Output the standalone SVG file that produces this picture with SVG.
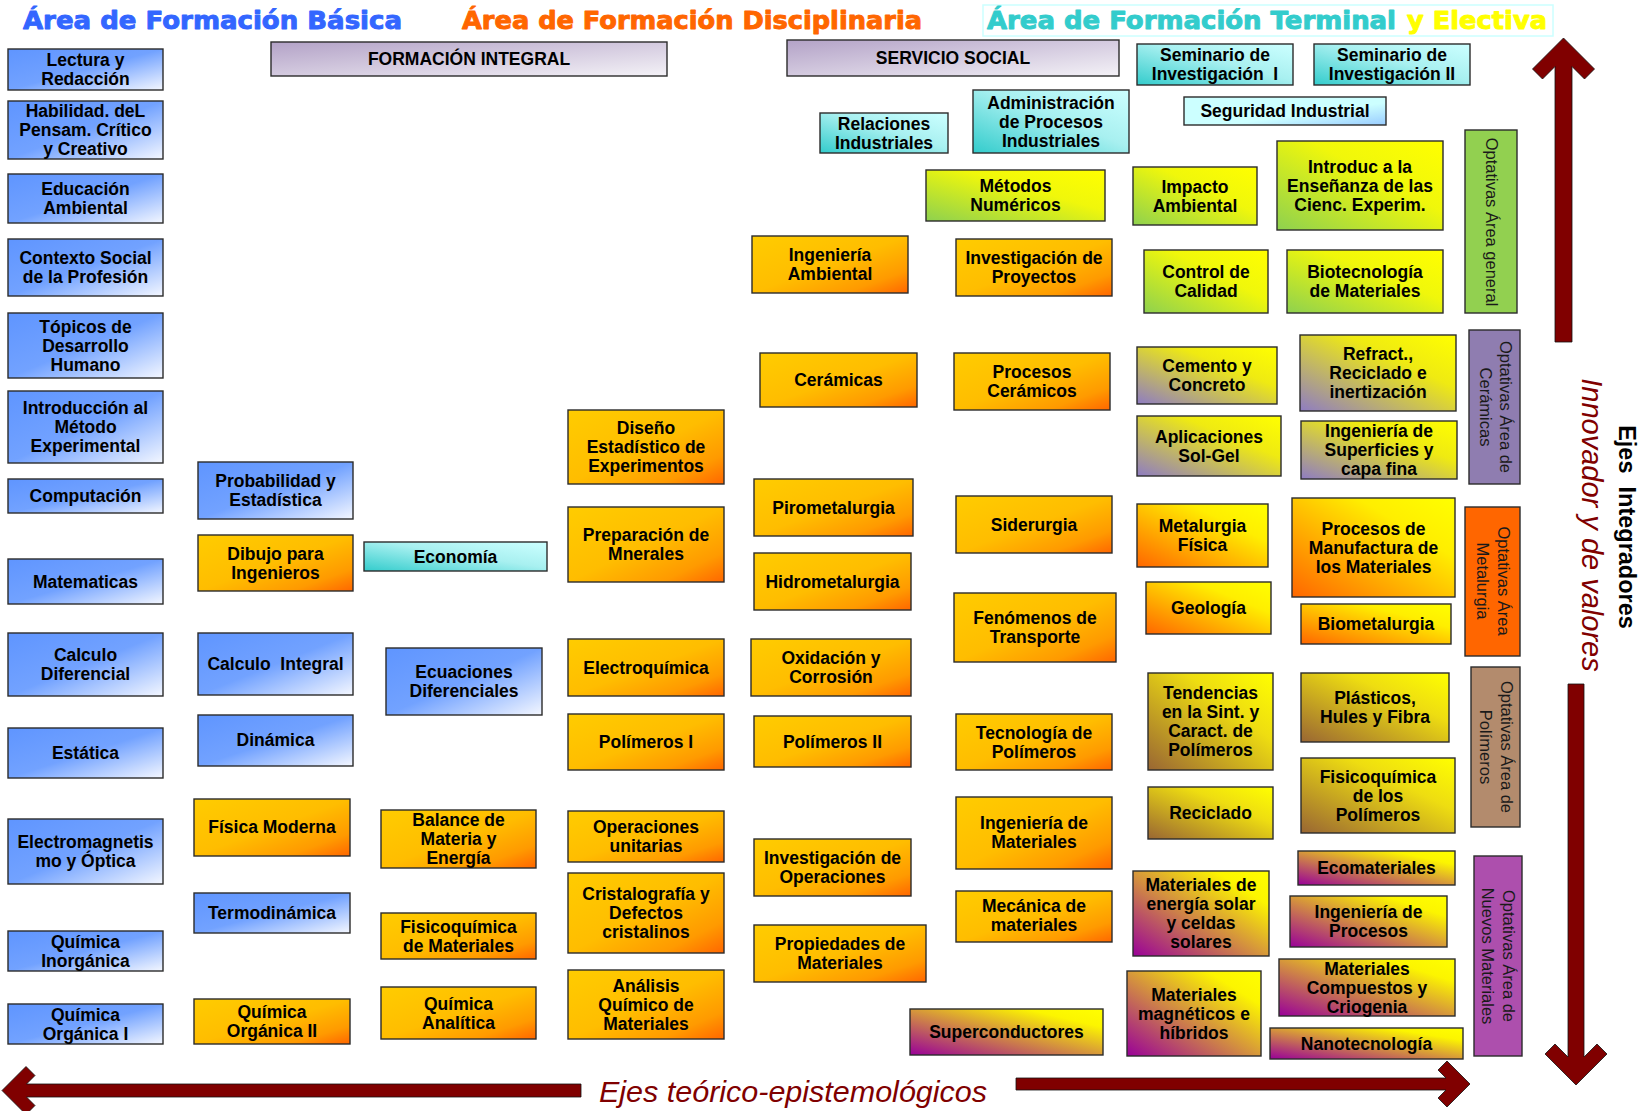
<svg xmlns="http://www.w3.org/2000/svg" width="1647" height="1111" viewBox="0 0 1647 1111">
<defs>
<linearGradient id="gBlue" x1="0" y1="0" x2="1" y2="1"><stop offset="0" stop-color="#5F95FF"/><stop offset="0.5" stop-color="#72A2FF"/><stop offset="1" stop-color="#F4F7FF"/></linearGradient>
<linearGradient id="gOrange" x1="0" y1="0" x2="1" y2="1"><stop offset="0" stop-color="#FFCC00"/><stop offset="0.5" stop-color="#FFBD00"/><stop offset="0.8" stop-color="#FF9A00"/><stop offset="1" stop-color="#FF6600"/></linearGradient>
<linearGradient id="gGreen" x1="1" y1="0" x2="0" y2="1"><stop offset="0" stop-color="#FFFF00"/><stop offset="0.4" stop-color="#F0F70B"/><stop offset="1" stop-color="#8ED14F"/></linearGradient>
<linearGradient id="gPurp" x1="1" y1="0" x2="0" y2="1"><stop offset="0" stop-color="#FFFF00"/><stop offset="0.35" stop-color="#EFEA12"/><stop offset="1" stop-color="#8E7CC3"/></linearGradient>
<linearGradient id="gOrY" x1="1" y1="0" x2="0" y2="1"><stop offset="0" stop-color="#FFFF00"/><stop offset="0.3" stop-color="#FFEE00"/><stop offset="1" stop-color="#FF6600"/></linearGradient>
<linearGradient id="gBrown" x1="1" y1="0" x2="0" y2="1"><stop offset="0" stop-color="#FFFF00"/><stop offset="0.35" stop-color="#EEDD11"/><stop offset="1" stop-color="#996633"/></linearGradient>
<linearGradient id="gMag" x1="1" y1="0" x2="0" y2="1"><stop offset="0" stop-color="#FFFF00"/><stop offset="0.2" stop-color="#FCF500"/><stop offset="1" stop-color="#990099"/></linearGradient>
<linearGradient id="gTeal" x1="0" y1="1" x2="1" y2="0"><stop offset="0" stop-color="#33CCCC"/><stop offset="0.55" stop-color="#A8F0F0"/><stop offset="1" stop-color="#CCFFFF"/></linearGradient>
<linearGradient id="gSeg" x1="0" y1="0" x2="1" y2="1"><stop offset="0" stop-color="#CCFFFF"/><stop offset="0.6" stop-color="#CCFFFF"/><stop offset="1" stop-color="#99CCFF"/></linearGradient>
<linearGradient id="gLav" x1="0" y1="0" x2="1" y2="1"><stop offset="0" stop-color="#B3A2C7"/><stop offset="1" stop-color="#F4F2F7"/></linearGradient>
<style>
.box{stroke:#2b2b2b;stroke-width:1.4}
.lbl{font-family:"Liberation Sans",Arial,sans-serif;font-weight:bold;font-size:17.5px;text-anchor:middle;fill:#000}
.opt{font-family:"Liberation Sans",Arial,sans-serif;font-size:16.5px;text-anchor:middle;fill:#1a1a1a}
.ttl{font-family:"DejaVu Sans","Liberation Sans",sans-serif;font-weight:bold;font-size:24px;stroke-width:0.9;stroke-linejoin:round}
.arrow{fill:#800000;stroke:#111;stroke-width:0.8}
.axis{font-family:"Liberation Sans",Arial,sans-serif;font-style:italic;fill:#800000}
</style>
</defs>
<rect width="1647" height="1111" fill="#fff"/>

<g id="titles">
<text class="ttl" x="23" y="29" textLength="379" lengthAdjust="spacingAndGlyphs" fill="#3366FF" stroke="#3366FF">Área de Formación Básica</text>
<text class="ttl" x="462" y="29" textLength="460" lengthAdjust="spacingAndGlyphs" fill="#FF6600" stroke="#FF6600">Área de Formación Disciplinaria</text>
<rect x="983" y="5" width="570" height="31" fill="none" stroke="#CCFFFF" stroke-width="1.5"/>
<text class="ttl" x="987" y="29" textLength="409" lengthAdjust="spacingAndGlyphs" fill="#33CCCC" stroke="#33CCCC">Área de Formación Terminal</text>
<text class="ttl" x="1407" y="29" textLength="140" lengthAdjust="spacingAndGlyphs" fill="#FFFF00" stroke="#FFFF00">y Electiva</text>
</g>

<g id="bar-formacion-integral"><rect class="box" x="271" y="42" width="396" height="34" fill="url(#gLav)"/><text class="lbl" x="469" y="65">FORMACIÓN INTEGRAL</text></g>
<g id="bar-servicio-social"><rect class="box" x="787" y="40" width="332" height="36" fill="url(#gLav)"/><text class="lbl" x="953" y="64">SERVICIO SOCIAL</text></g>

<!-- Column 1 -->
<g id="n-lectura"><rect class="box" x="8" y="49" width="155" height="41" fill="url(#gBlue)"/><text class="lbl"><tspan x="85.5" y="66.3">Lectura y</tspan><tspan x="85.5" y="85.3">Redacción</tspan></text></g>
<g id="n-habilidad"><rect class="box" x="8" y="101" width="155" height="58" fill="url(#gBlue)"/><text class="lbl"><tspan x="85.5" y="117.3">Habilidad. deL</tspan><tspan x="85.5" y="136.3">Pensam. Crítico</tspan><tspan x="85.5" y="155.3">y Creativo</tspan></text></g>
<g id="n-educacion"><rect class="box" x="8" y="174" width="155" height="49" fill="url(#gBlue)"/><text class="lbl"><tspan x="85.5" y="195.3">Educación</tspan><tspan x="85.5" y="214.3">Ambiental</tspan></text></g>
<g id="n-contexto"><rect class="box" x="8" y="239" width="155" height="57" fill="url(#gBlue)"/><text class="lbl"><tspan x="85.5" y="264.3">Contexto Social</tspan><tspan x="85.5" y="283.3">de la Profesión</tspan></text></g>
<g id="n-topicos"><rect class="box" x="8" y="313" width="155" height="65" fill="url(#gBlue)"/><text class="lbl"><tspan x="85.5" y="332.8">Tópicos de</tspan><tspan x="85.5" y="351.8">Desarrollo</tspan><tspan x="85.5" y="370.8">Humano</tspan></text></g>
<g id="n-intro-metodo"><rect class="box" x="8" y="391" width="155" height="72" fill="url(#gBlue)"/><text class="lbl"><tspan x="85.5" y="414.3">Introducción al</tspan><tspan x="85.5" y="433.3">Método</tspan><tspan x="85.5" y="452.3">Experimental</tspan></text></g>
<g id="n-computacion"><rect class="box" x="8" y="479" width="155" height="34" fill="url(#gBlue)"/><text class="lbl" x="85.5" y="502.3">Computación</text></g>
<g id="n-matematicas"><rect class="box" x="8" y="559" width="155" height="45" fill="url(#gBlue)"/><text class="lbl" x="85.5" y="587.8">Matematicas</text></g>
<g id="n-calc-dif"><rect class="box" x="8" y="633" width="155" height="63" fill="url(#gBlue)"/><text class="lbl"><tspan x="85.5" y="661.3">Calculo</tspan><tspan x="85.5" y="680.3">Diferencial</tspan></text></g>
<g id="n-estatica"><rect class="box" x="8" y="728" width="155" height="50" fill="url(#gBlue)"/><text class="lbl" x="85.5" y="759.3">Estática</text></g>
<g id="n-electromag"><rect class="box" x="8" y="819" width="155" height="65" fill="url(#gBlue)"/><text class="lbl"><tspan x="85.5" y="848.3">Electromagnetis</tspan><tspan x="85.5" y="867.3">mo y Óptica</tspan></text></g>
<g id="n-q-inorg"><rect class="box" x="8" y="931" width="155" height="40" fill="url(#gBlue)"/><text class="lbl"><tspan x="85.5" y="947.8">Química</tspan><tspan x="85.5" y="966.8">Inorgánica</tspan></text></g>
<g id="n-q-org1"><rect class="box" x="8" y="1004" width="155" height="40" fill="url(#gBlue)"/><text class="lbl"><tspan x="85.5" y="1020.8">Química</tspan><tspan x="85.5" y="1039.8">Orgánica I</tspan></text></g>

<!-- Column 2 -->
<g id="n-probabilidad"><rect class="box" x="198" y="462" width="155" height="57" fill="url(#gBlue)"/><text class="lbl"><tspan x="275.5" y="487.3">Probabilidad y</tspan><tspan x="275.5" y="506.3">Estadística</tspan></text></g>
<g id="n-dibujo"><rect class="box" x="198" y="535" width="155" height="56" fill="url(#gOrange)"/><text class="lbl"><tspan x="275.5" y="559.8">Dibujo para</tspan><tspan x="275.5" y="578.8">Ingenieros</tspan></text></g>
<g id="n-calc-int"><rect class="box" x="198" y="633" width="155" height="62" fill="url(#gBlue)"/><text class="lbl" x="275.5" y="670.3" xml:space="preserve">Calculo  Integral</text></g>
<g id="n-dinamica"><rect class="box" x="198" y="715" width="155" height="51" fill="url(#gBlue)"/><text class="lbl" x="275.5" y="745.5">Dinámica</text></g>
<g id="n-fisica-moderna"><rect class="box" x="194" y="799" width="156" height="57" fill="url(#gOrange)"/><text class="lbl" x="272" y="833.3">Física Moderna</text></g>
<g id="n-termodinamica"><rect class="box" x="194" y="893" width="156" height="40" fill="url(#gBlue)"/><text class="lbl" x="272" y="919.3">Termodinámica</text></g>
<g id="n-q-org2"><rect class="box" x="194" y="999" width="156" height="45" fill="url(#gOrange)"/><text class="lbl"><tspan x="272" y="1018.3">Química</tspan><tspan x="272" y="1037.3">Orgánica II</tspan></text></g>

<!-- Column 3 -->
<g id="n-economia"><rect class="box" x="364" y="542" width="183" height="29" fill="url(#gTeal)"/><text class="lbl" x="455.5" y="562.8">Economía</text></g>
<g id="n-ec-dif"><rect class="box" x="386" y="648" width="156" height="67" fill="url(#gBlue)"/><text class="lbl"><tspan x="464" y="678.3">Ecuaciones</tspan><tspan x="464" y="697.3">Diferenciales</tspan></text></g>
<g id="n-balance"><rect class="box" x="381" y="810" width="155" height="58" fill="url(#gOrange)"/><text class="lbl"><tspan x="458.5" y="826.3">Balance de</tspan><tspan x="458.5" y="845.3">Materia y</tspan><tspan x="458.5" y="864.3">Energía</tspan></text></g>
<g id="n-fisicoq-mat"><rect class="box" x="381" y="913" width="155" height="46" fill="url(#gOrange)"/><text class="lbl"><tspan x="458.5" y="932.8">Fisicoquímica</tspan><tspan x="458.5" y="951.8">de Materiales</tspan></text></g>
<g id="n-q-analitica"><rect class="box" x="381" y="987" width="155" height="52" fill="url(#gOrange)"/><text class="lbl"><tspan x="458.5" y="1009.8">Química</tspan><tspan x="458.5" y="1028.8">Analítica</tspan></text></g>

<!-- Column 4 -->
<g id="n-diseno"><rect class="box" x="568" y="410" width="156" height="74" fill="url(#gOrange)"/><text class="lbl"><tspan x="646" y="434.3">Diseño</tspan><tspan x="646" y="453.3">Estadístico de</tspan><tspan x="646" y="472.3">Experimentos</tspan></text></g>
<g id="n-preparacion"><rect class="box" x="568" y="507" width="156" height="75" fill="url(#gOrange)"/><text class="lbl"><tspan x="646" y="541.3">Preparación de</tspan><tspan x="646" y="560.3">Mnerales</tspan></text></g>
<g id="n-electroquimica"><rect class="box" x="568" y="639" width="156" height="57" fill="url(#gOrange)"/><text class="lbl" x="646" y="673.8">Electroquímica</text></g>
<g id="n-polimeros1"><rect class="box" x="568" y="714" width="156" height="56" fill="url(#gOrange)"/><text class="lbl" x="646" y="748.3">Polímeros I</text></g>
<g id="n-op-unitarias"><rect class="box" x="568" y="811" width="156" height="51" fill="url(#gOrange)"/><text class="lbl"><tspan x="646" y="833.3">Operaciones</tspan><tspan x="646" y="852.3">unitarias</tspan></text></g>
<g id="n-cristalografia"><rect class="box" x="568" y="873" width="156" height="80" fill="url(#gOrange)"/><text class="lbl"><tspan x="646" y="900.3">Cristalografía y</tspan><tspan x="646" y="919.3">Defectos</tspan><tspan x="646" y="938.3">cristalinos</tspan></text></g>
<g id="n-analisis"><rect class="box" x="568" y="970" width="156" height="69" fill="url(#gOrange)"/><text class="lbl"><tspan x="646" y="991.8">Análisis</tspan><tspan x="646" y="1010.8">Químico de</tspan><tspan x="646" y="1029.8">Materiales</tspan></text></g>

<!-- Column 5 -->
<g id="n-ing-ambiental"><rect class="box" x="752" y="236" width="156" height="57" fill="url(#gOrange)"/><text class="lbl"><tspan x="830" y="261.3">Ingeniería</tspan><tspan x="830" y="280.3">Ambiental</tspan></text></g>
<g id="n-ceramicas"><rect class="box" x="760" y="353" width="157" height="54" fill="url(#gOrange)"/><text class="lbl" x="838.5" y="386.3">Cerámicas</text></g>
<g id="n-pirometalurgia"><rect class="box" x="754" y="479" width="159" height="57" fill="url(#gOrange)"/><text class="lbl" x="833.5" y="513.8">Pirometalurgia</text></g>
<g id="n-hidrometalurgia"><rect class="box" x="754" y="553" width="157" height="57" fill="url(#gOrange)"/><text class="lbl" x="832.5" y="587.8">Hidrometalurgia</text></g>
<g id="n-oxidacion"><rect class="box" x="751" y="639" width="160" height="57" fill="url(#gOrange)"/><text class="lbl"><tspan x="831" y="664.3">Oxidación y</tspan><tspan x="831" y="683.3">Corrosión</tspan></text></g>
<g id="n-polimeros2"><rect class="box" x="754" y="716" width="157" height="51" fill="url(#gOrange)"/><text class="lbl" x="832.5" y="747.8">Polímeros II</text></g>
<g id="n-inv-operaciones"><rect class="box" x="754" y="839" width="157" height="57" fill="url(#gOrange)"/><text class="lbl"><tspan x="832.5" y="864.3">Investigación de</tspan><tspan x="832.5" y="883.3">Operaciones</tspan></text></g>
<g id="n-propiedades"><rect class="box" x="754" y="925" width="172" height="57" fill="url(#gOrange)"/><text class="lbl"><tspan x="840" y="950.3">Propiedades de</tspan><tspan x="840" y="969.3">Materiales</tspan></text></g>
<g id="n-superconductores"><rect class="box" x="910" y="1009" width="193" height="46" fill="url(#gMag)"/><text class="lbl" x="1006.5" y="1038.3">Superconductores</text></g>

<!-- Column 6 -->
<g id="n-relaciones"><rect class="box" x="820" y="113" width="128" height="40" fill="url(#gTeal)"/><text class="lbl"><tspan x="884" y="129.8">Relaciones</tspan><tspan x="884" y="148.8">Industriales</tspan></text></g>
<g id="n-administracion"><rect class="box" x="973" y="90" width="156" height="63" fill="url(#gTeal)"/><text class="lbl"><tspan x="1051" y="108.8">Administración</tspan><tspan x="1051" y="127.8">de Procesos</tspan><tspan x="1051" y="146.8">Industriales</tspan></text></g>
<g id="n-metodos"><rect class="box" x="926" y="170" width="179" height="51" fill="url(#gGreen)"/><text class="lbl"><tspan x="1015.5" y="192.3">Métodos</tspan><tspan x="1015.5" y="211.3">Numéricos</tspan></text></g>
<g id="n-inv-proyectos"><rect class="box" x="956" y="239" width="156" height="57" fill="url(#gOrange)"/><text class="lbl"><tspan x="1034" y="264.3">Investigación de</tspan><tspan x="1034" y="283.3">Proyectos</tspan></text></g>
<g id="n-proc-ceramicos"><rect class="box" x="954" y="353" width="156" height="57" fill="url(#gOrange)"/><text class="lbl"><tspan x="1032" y="378.3">Procesos</tspan><tspan x="1032" y="397.3">Cerámicos</tspan></text></g>
<g id="n-siderurgia"><rect class="box" x="956" y="496" width="156" height="57" fill="url(#gOrange)"/><text class="lbl" x="1034" y="530.8">Siderurgia</text></g>
<g id="n-fenomenos"><rect class="box" x="954" y="593" width="162" height="69" fill="url(#gOrange)"/><text class="lbl"><tspan x="1035" y="624.3">Fenómenos de</tspan><tspan x="1035" y="643.3">Transporte</tspan></text></g>
<g id="n-tec-polimeros"><rect class="box" x="956" y="714" width="156" height="56" fill="url(#gOrange)"/><text class="lbl"><tspan x="1034" y="738.8">Tecnología de</tspan><tspan x="1034" y="757.8">Polímeros</tspan></text></g>
<g id="n-ing-materiales"><rect class="box" x="956" y="797" width="156" height="72" fill="url(#gOrange)"/><text class="lbl"><tspan x="1034" y="829.3">Ingeniería de</tspan><tspan x="1034" y="848.3">Materiales</tspan></text></g>
<g id="n-mecanica"><rect class="box" x="956" y="891" width="156" height="51" fill="url(#gOrange)"/><text class="lbl"><tspan x="1034" y="912.3">Mecánica de</tspan><tspan x="1034" y="931.3">materiales</tspan></text></g>

<!-- Column 7 -->
<g id="n-seminario1"><rect class="box" x="1137" y="44" width="156" height="41" fill="url(#gTeal)"/><text class="lbl" xml:space="preserve"><tspan x="1215" y="61.3">Seminario de</tspan><tspan x="1215" y="80.3">Investigación  I</tspan></text></g>
<g id="n-seguridad"><rect class="box" x="1184" y="97" width="202" height="28" fill="url(#gSeg)"/><text class="lbl" x="1285" y="117.3">Seguridad Industrial</text></g>
<g id="n-impacto"><rect class="box" x="1133" y="167" width="124" height="58" fill="url(#gGreen)"/><text class="lbl"><tspan x="1195" y="192.8">Impacto</tspan><tspan x="1195" y="211.8">Ambiental</tspan></text></g>
<g id="n-control"><rect class="box" x="1144" y="250" width="124" height="63" fill="url(#gGreen)"/><text class="lbl"><tspan x="1206" y="278.3">Control de</tspan><tspan x="1206" y="297.3">Calidad</tspan></text></g>
<g id="n-cemento"><rect class="box" x="1137" y="347" width="140" height="57" fill="url(#gPurp)"/><text class="lbl"><tspan x="1207" y="372.3">Cemento y</tspan><tspan x="1207" y="391.3">Concreto</tspan></text></g>
<g id="n-solgel"><rect class="box" x="1137" y="416" width="144" height="60" fill="url(#gPurp)"/><text class="lbl"><tspan x="1209" y="442.8">Aplicaciones</tspan><tspan x="1209" y="461.8">Sol-Gel</tspan></text></g>
<g id="n-metalurgia-fisica"><rect class="box" x="1137" y="504" width="131" height="63" fill="url(#gOrY)"/><text class="lbl"><tspan x="1202.5" y="532.3">Metalurgia</tspan><tspan x="1202.5" y="551.3">Física</tspan></text></g>
<g id="n-geologia"><rect class="box" x="1146" y="582" width="125" height="52" fill="url(#gOrY)"/><text class="lbl" x="1208.5" y="614.3">Geología</text></g>
<g id="n-tendencias"><rect class="box" x="1148" y="673" width="125" height="97" fill="url(#gBrown)"/><text class="lbl"><tspan x="1210.5" y="699.3">Tendencias</tspan><tspan x="1210.5" y="718.3">en la Sint. y</tspan><tspan x="1210.5" y="737.3">Caract. de</tspan><tspan x="1210.5" y="756.3">Polímeros</tspan></text></g>
<g id="n-reciclado"><rect class="box" x="1148" y="787" width="125" height="52" fill="url(#gBrown)"/><text class="lbl" x="1210.5" y="819.3">Reciclado</text></g>
<g id="n-energia-solar"><rect class="box" x="1133" y="871" width="136" height="85" fill="url(#gMag)"/><text class="lbl"><tspan x="1201" y="891.3">Materiales de</tspan><tspan x="1201" y="910.3">energía solar</tspan><tspan x="1201" y="929.3">y celdas</tspan><tspan x="1201" y="948.3">solares</tspan></text></g>
<g id="n-magneticos"><rect class="box" x="1127" y="971" width="134" height="85" fill="url(#gMag)"/><text class="lbl"><tspan x="1194" y="1000.8">Materiales</tspan><tspan x="1194" y="1019.8">magnéticos e</tspan><tspan x="1194" y="1038.8">híbridos</tspan></text></g>

<!-- Column 8 -->
<g id="n-seminario2"><rect class="box" x="1314" y="44" width="156" height="41" fill="url(#gTeal)"/><text class="lbl"><tspan x="1392" y="61.3">Seminario de</tspan><tspan x="1392" y="80.3">Investigación II</tspan></text></g>
<g id="n-introduc"><rect class="box" x="1277" y="141" width="166" height="89" fill="url(#gGreen)"/><text class="lbl"><tspan x="1360" y="172.8">Introduc a la</tspan><tspan x="1360" y="191.8">Enseñanza de las</tspan><tspan x="1360" y="210.8">Cienc. Experim.</tspan></text></g>
<g id="n-biotecnologia"><rect class="box" x="1287" y="250" width="156" height="63" fill="url(#gGreen)"/><text class="lbl"><tspan x="1365" y="278.3">Biotecnología</tspan><tspan x="1365" y="297.3">de Materiales</tspan></text></g>
<g id="n-refract"><rect class="box" x="1300" y="335" width="156" height="76" fill="url(#gPurp)"/><text class="lbl"><tspan x="1378" y="360.3">Refract.,</tspan><tspan x="1378" y="379.3">Reciclado e</tspan><tspan x="1378" y="398.3">inertización</tspan></text></g>
<g id="n-superficies"><rect class="box" x="1301" y="421" width="156" height="58" fill="url(#gPurp)"/><text class="lbl"><tspan x="1379" y="437.3">Ingeniería de</tspan><tspan x="1379" y="456.3">Superficies y</tspan><tspan x="1379" y="475.3">capa fina</tspan></text></g>
<g id="n-proc-manufactura"><rect class="box" x="1292" y="498" width="163" height="99" fill="url(#gOrY)"/><text class="lbl"><tspan x="1373.5" y="534.8">Procesos de</tspan><tspan x="1373.5" y="553.8">Manufactura de</tspan><tspan x="1373.5" y="572.8">los Materiales</tspan></text></g>
<g id="n-biometalurgia"><rect class="box" x="1301" y="604" width="150" height="40" fill="url(#gOrY)"/><text class="lbl" x="1376" y="630.3">Biometalurgia</text></g>
<g id="n-plasticos"><rect class="box" x="1301" y="673" width="148" height="69" fill="url(#gBrown)"/><text class="lbl"><tspan x="1375" y="704.3">Plásticos,</tspan><tspan x="1375" y="723.3">Hules y Fibra</tspan></text></g>
<g id="n-fisicoq-polimeros"><rect class="box" x="1301" y="758" width="154" height="75" fill="url(#gBrown)"/><text class="lbl"><tspan x="1378" y="782.8">Fisicoquímica</tspan><tspan x="1378" y="801.8">de los</tspan><tspan x="1378" y="820.8">Polímeros</tspan></text></g>
<g id="n-ecomateriales"><rect class="box" x="1298" y="851" width="157" height="34" fill="url(#gMag)"/><text class="lbl" x="1376.5" y="874.3">Ecomateriales</text></g>
<g id="n-ing-procesos"><rect class="box" x="1290" y="896" width="157" height="51" fill="url(#gMag)"/><text class="lbl"><tspan x="1368.5" y="918.3">Ingeniería de</tspan><tspan x="1368.5" y="937.3">Procesos</tspan></text></g>
<g id="n-compuestos"><rect class="box" x="1279" y="959" width="176" height="57" fill="url(#gMag)"/><text class="lbl"><tspan x="1367" y="974.8">Materiales</tspan><tspan x="1367" y="993.8">Compuestos y</tspan><tspan x="1367" y="1012.8">Criogenia</tspan></text></g>
<g id="n-nanotecnologia"><rect class="box" x="1270" y="1028" width="193" height="31" fill="url(#gMag)"/><text class="lbl" x="1366.5" y="1049.8">Nanotecnología</text></g>

<!-- Optativas -->
<g id="n-opt-general"><rect class="box" x="1465" y="130" width="52" height="183" fill="#92D050"/><text class="opt" transform="translate(1486,222) rotate(90)" x="0" y="0">Optativas Área general</text></g>
<g id="n-opt-ceramicas"><rect class="box" x="1469" y="330" width="51" height="154" fill="#8F7DB0"/><text class="opt" transform="translate(1500,407) rotate(90)"><tspan x="0" y="0">Optativas Área de</tspan><tspan x="0" y="20">Cerámicas</tspan></text></g>
<g id="n-opt-metalurgia"><rect class="box" x="1465" y="507" width="55" height="149" fill="#FF6600"/><text class="opt" transform="translate(1498,581) rotate(90)"><tspan x="0" y="0">Optativas Área</tspan><tspan x="0" y="21">Metalurgia</tspan></text></g>
<g id="n-opt-polimeros"><rect class="box" x="1471" y="667" width="49" height="160" fill="#B38B6D"/><text class="opt" transform="translate(1501,747) rotate(90)"><tspan x="0" y="0">Optativas Área de</tspan><tspan x="0" y="21">Polímeros</tspan></text></g>
<g id="n-opt-nuevos"><rect class="box" x="1474" y="856" width="48" height="200" fill="#AD4FAD"/><text class="opt" transform="translate(1503,956) rotate(90)"><tspan x="0" y="0">Optativas Área de</tspan><tspan x="0" y="21">Nuevos Materiales</tspan></text></g>

<!-- Axis arrows -->
<g id="connectors">
<polygon class="arrow" points="1563.5,38 1532.5,69 1542.5,79 1555,66.5 1555,342 1572,342 1572,66.5 1584.5,79 1594.5,69"/>
<polygon class="arrow" points="1576,1085 1545,1054 1555,1044 1568,1057 1568,684 1584,684 1584,1057 1597,1044 1607,1054"/>
<polygon class="arrow" points="2,1090.5 26,1066.5 35,1075.5 26.5,1084 581,1084 581,1097 26.5,1097 35,1105.5 26,1114.5"/>
<polygon class="arrow" points="1470,1084 1447,1061 1438,1070 1446,1078 1016,1078 1016,1090 1446,1090 1438,1098 1447,1107"/>
</g>

<g id="axis-labels">
<text class="axis" x="599" y="1102" font-size="30" textLength="388" lengthAdjust="spacingAndGlyphs">Ejes teórico-epistemológicos</text>
<text class="axis" transform="translate(1582,525) rotate(90)" x="0" y="0" font-size="29" text-anchor="middle">Innovador y de valores</text>
<text transform="translate(1619,527) rotate(90)" x="0" y="0" font-family="Liberation Sans, Arial, sans-serif" font-weight="bold" font-size="23.5" text-anchor="middle" fill="#000" xml:space="preserve">Ejes  Integradores</text>
</g>
</svg>
